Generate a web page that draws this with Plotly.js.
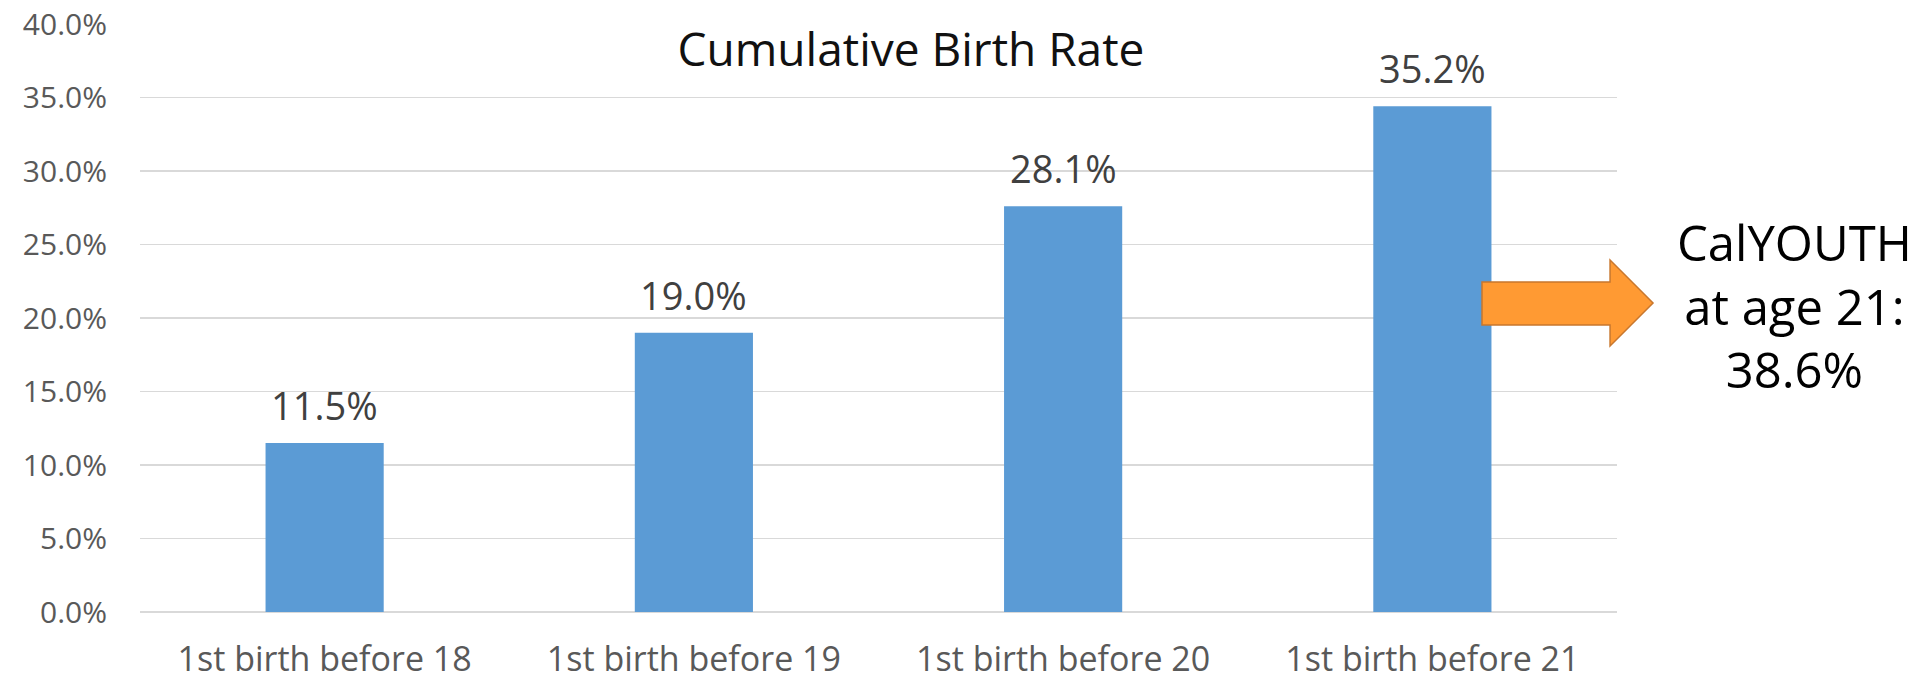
<!DOCTYPE html>
<html>
<head>
<meta charset="utf-8">
<script src="https://cdn.plot.ly/plotly-3.0.1.min.js"></script>
<style>
  html, body { margin: 0; padding: 0; background: #fff; }
  #chart { width: 1931px; height: 685px; }
</style>
</head>
<body>
<div id="chart"></div>
<script>
// Data
const categories = ["1st birth before 18", "1st birth before 19", "1st birth before 20", "1st birth before 21"];
const barValues = [11.5, 19.0, 27.6, 34.4];          // drawn bar heights (%)
const barLabels = ["11.5%", "19.0%", "28.1%", "35.2%"]; // printed data labels
const yTickValues = [0, 5, 10, 15, 20, 25, 30, 35, 40];
const yTickLabels = ["0.0%", "5.0%", "10.0%", "15.0%", "20.0%", "25.0%", "30.0%", "35.0%", "40.0%"];
const chartTitle = "Cumulative Birth Rate";
const calloutText = "CalYOUTH<br>at age 21:<br>38.6%";

const FONT = "'Open Sans', 'DejaVu Sans', sans-serif";

const trace = {
  type: "bar",
  x: categories,
  y: barValues,
  marker: { color: "#5B9BD5", line: { width: 0 } },
  hoverinfo: "skip"
};

const labelAnnotations = categories.map((c, i) => ({
  x: c, y: barValues[i], xref: "x", yref: "y",
  text: barLabels[i], showarrow: false,
  xanchor: "center", yanchor: "bottom", yshift: 10,
  font: { family: FONT, size: 38, color: "#404040" }
}));

const layout = {
  width: 1931, height: 685,
  margin: { l: 139.5, r: 313.5, t: 24, b: 73, pad: 0 },
  paper_bgcolor: "#ffffff",
  plot_bgcolor: "#ffffff",
  showlegend: false,
  bargap: 0.68,
  title: {
    text: chartTitle,
    x: 911 / 1931, xref: "container", xanchor: "center",
    y: 1 - 50 / 685, yref: "container", yanchor: "middle",
    font: { family: FONT, size: 46, color: "#111111" }
  },
  xaxis: {
    type: "category",
    showgrid: false, showline: false, zeroline: false,
    ticks: "",
    ticklabelstandoff: 24,
    tickfont: { family: FONT, size: 34, color: "#595959" }
  },
  yaxis: {
    range: [0, 40],
    tickmode: "array",
    tickvals: yTickValues,
    ticktext: yTickLabels,
    showgrid: true, gridcolor: "#D9D9D9", gridwidth: 1.5,
    zeroline: true, zerolinecolor: "#D9D9D9", zerolinewidth: 2,
    showline: false, ticks: "",
    ticklabelstandoff: 32,
    tickfont: { family: FONT, size: 30, color: "#595959" }
  },
  shapes: [{
    type: "path", xref: "paper", yref: "paper",
    path: "M 0.9086 0.5612 L 0.9953 0.5612 L 0.9953 0.5986 L 1.0244 0.5255 L 0.9953 0.4524 L 0.9953 0.4881 L 0.9086 0.4881 Z",
    fillcolor: "#FF9A33",
    line: { color: "#C8772E", width: 1.5 }
  }],
  annotations: labelAnnotations.concat([{
    xref: "paper", yref: "paper",
    x: 1.1205, y: 0.522,
    xanchor: "center", yanchor: "middle",
    text: calloutText, showarrow: false, align: "center",
    font: { family: FONT, size: 49, color: "#000000" }
  }])
};

Plotly.newPlot("chart", [trace], layout, { staticPlot: true, displayModeBar: false });
</script>
</body>
</html>
